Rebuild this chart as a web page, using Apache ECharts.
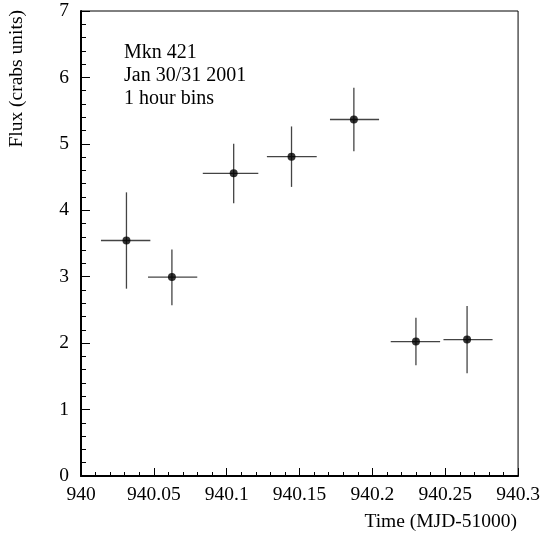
<!DOCTYPE html>
<html>
<head>
<meta charset="utf-8">
<script src="https://cdn.jsdelivr.net/npm/echarts@6/dist/echarts.min.js"></script>
<style>
  html, body { margin: 0; padding: 0; background: #fff; }
  #chart { width: 543px; height: 537px; }
</style>
</head>
<body>
<div id="chart"></div>
<script>
// time bins (MJD-51000) and flux in crab units
const times = [940.0312, 940.0624, 940.1048, 940.1445, 940.1873, 940.2299, 940.265];
const flux = [3.545, 2.994, 4.556, 4.807, 5.367, 2.023, 2.053];
const timeLo = [940.0137, 940.046, 940.0836, 940.1276, 940.1709, 940.2126, 940.2488];
const timeHi = [940.0476, 940.0798, 940.1217, 940.1618, 940.2046, 940.2465, 940.2825];
const fluxLo = [2.82, 2.57, 4.105, 4.352, 4.887, 1.667, 1.547];
const fluxHi = [4.27, 3.41, 5.0, 5.262, 5.843, 2.384, 2.558];
const infoLines = ["Mkn 421", "Jan 30/31 2001", "1 hour bins"];

const serif = "Liberation Serif";
const fs = 19.5;

const myChart = echarts.init(document.getElementById("chart"));

const errData = times.map((t, i) => [t, flux[i], timeLo[i], timeHi[i], fluxLo[i], fluxHi[i]]);

const option = {
  animation: false,
  grid: {
    left: 81,
    right: 23.5,
    top: 11,
    bottom: 61,
    show: true,
    borderColor: "#000",
    borderWidth: 1,
  },
  xAxis: {
    type: "value",
    min: 940,
    max: 940.3,
    interval: 0.05,
    axisLine: { lineStyle: { color: "#000", width: 2 } },
    axisTick: { inside: true, length: 8, lineStyle: { color: "#000" } },
    minorTick: { show: true, splitNumber: 5, length: 4, lineStyle: { color: "#000" } },
    splitLine: { show: false },
    axisLabel: {
      color: "#000",
      fontFamily: serif,
      fontSize: fs,
      margin: 9,
      showMinLabel: true,
      showMaxLabel: true,
      formatter: (v) => String(parseFloat(v.toFixed(2))),
    },
  },
  yAxis: {
    type: "value",
    min: 0,
    max: 7,
    interval: 1,
    axisLine: { show: true, lineStyle: { color: "#000", width: 2 } },
    axisTick: { show: true, inside: true, length: 9, lineStyle: { color: "#000" } },
    minorTick: { show: true, splitNumber: 5, length: 5, lineStyle: { color: "#000" } },
    splitLine: { show: false },
    axisLabel: {
      color: "#000",
      fontFamily: serif,
      fontSize: fs,
      margin: 12,
    },
  },
  graphic: [
    {
      type: "text",
      x: 17,
      y: 10,
      rotation: Math.PI / 2,
      style: {
        text: "Flux (crabs units)",
        font: fs + "px " + serif,
        fill: "#000",
        textAlign: "right",
        textVerticalAlign: "middle",
      },
    },
    {
      type: "text",
      x: 517,
      y: 522,
      style: {
        text: "Time (MJD-51000)",
        font: fs + "px " + serif,
        fill: "#000",
        textAlign: "right",
        textVerticalAlign: "middle",
      },
    },
    {
      type: "text",
      x: 124,
      y: 41,
      style: {
        text: infoLines.join("\n"),
        font: "20px " + serif,
        lineHeight: 23,
        fill: "#000",
        textAlign: "left",
        textVerticalAlign: "top",
      },
    },
  ],
  series: [
    {
      type: "custom",
      data: errData,
      renderItem: (params, api) => {
        const y = api.value(1);
        const x = api.value(0);
        const l = api.coord([api.value(2), y]);
        const r = api.coord([api.value(3), y]);
        const b = api.coord([x, api.value(4)]);
        const t = api.coord([x, api.value(5)]);
        const st = { stroke: "#444", lineWidth: 1.3 };
        return {
          type: "group",
          children: [
            { type: "line", shape: { x1: l[0], y1: l[1], x2: r[0], y2: r[1] }, style: st },
            { type: "line", shape: { x1: b[0], y1: b[1], x2: t[0], y2: t[1] }, style: st },
          ],
        };
      },
      z: 2,
    },
    {
      type: "scatter",
      data: times.map((t, i) => [t, flux[i]]),
      symbol: "circle",
      symbolSize: 8,
      itemStyle: { color: "#000" },
      z: 3,
    },
  ],
};

myChart.setOption(option);
</script>
</body>
</html>
